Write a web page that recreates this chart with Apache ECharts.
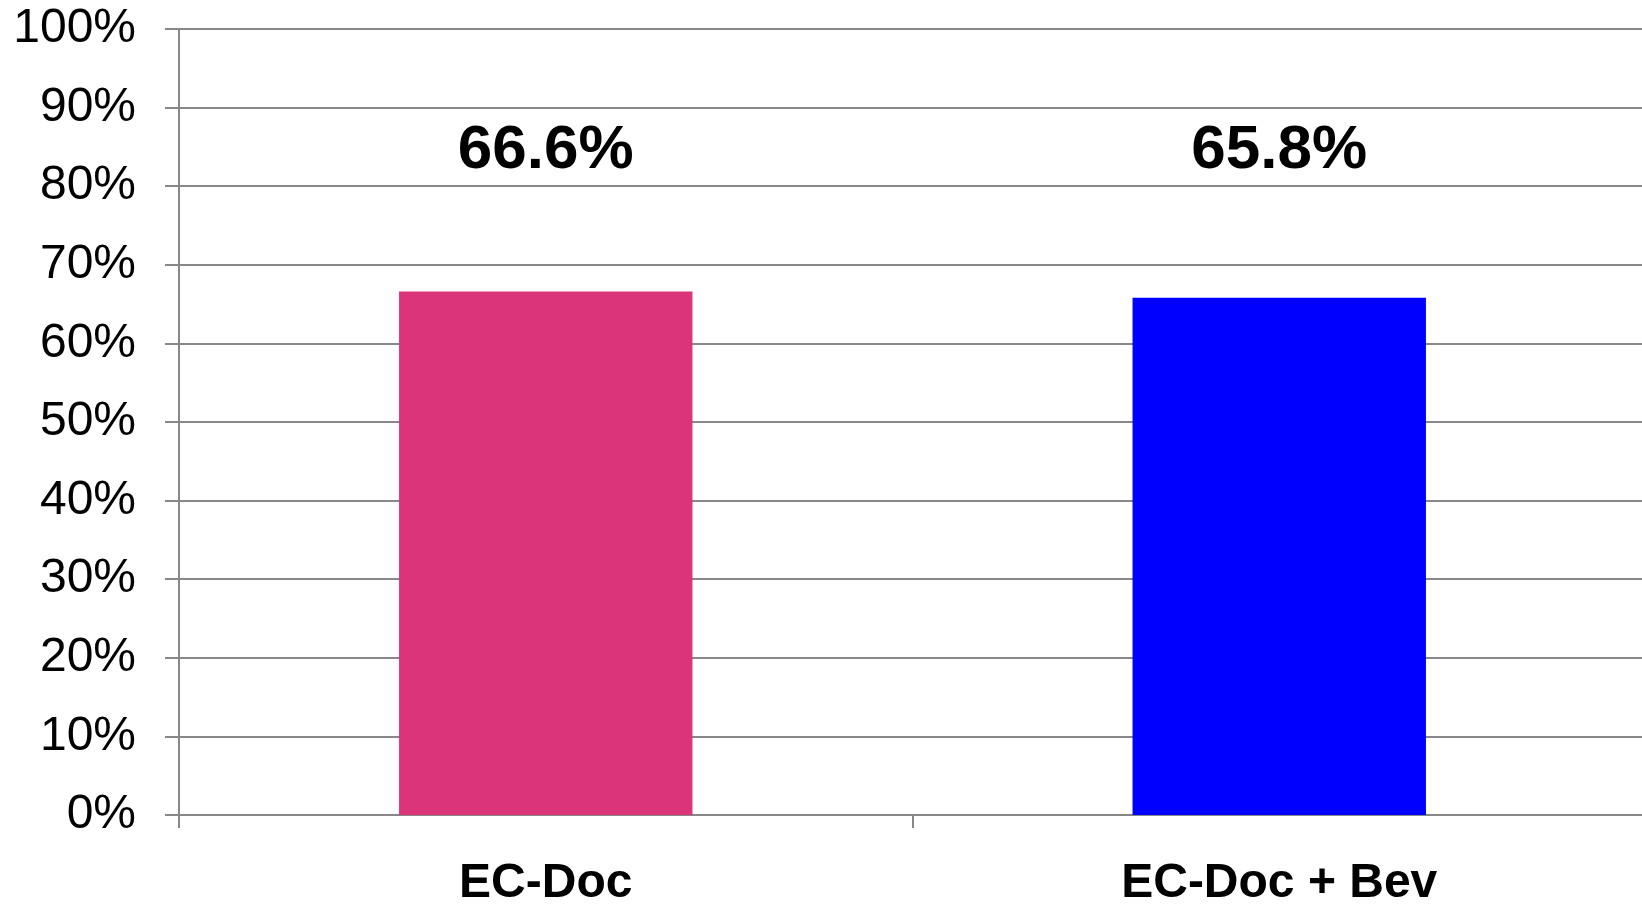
<!DOCTYPE html>
<html>
<head>
<meta charset="utf-8">
<title>EC-Doc</title>
<script src="https://cdn.jsdelivr.net/npm/echarts@6/dist/echarts.min.js"></script>
<style>
  html, body { margin: 0; padding: 0; background: #fff; }
  #main { width: 1642px; height: 905px; }
</style>
</head>
<body>
<div id="main"></div>
<script>
// data
var categories = ["EC-Doc", "EC-Doc + Bev"];
var values = [66.6, 65.8];
var barColors = ["#DB347B", "#0000FF"];
var yTicks = [0, 10, 20, 30, 40, 50, 60, 70, 80, 90, 100];

// the value labels sit on one common level above the bars, like in the slide
var labelLevel = 84.5;

var chart = echarts.init(document.getElementById("main"));

var gridColor = "#888888";
var font = "'Liberation Sans', Arial, sans-serif";

chart.setOption({
  animation: false,
  backgroundColor: "#fff",
  grid: {
    left: 179,
    right: -4,
    top: 29,
    bottom: 90,
    outerBoundsMode: "none"
  },
  xAxis: {
    type: "category",
    data: categories,
    axisLine: { show: true, lineStyle: { color: gridColor, width: 2 } },
    axisTick: { show: true, length: 13, lineStyle: { color: gridColor, width: 2 } },
    axisLabel: {
      color: "#000",
      fontFamily: font,
      fontWeight: "bold",
      fontSize: 48,
      margin: 45
    }
  },
  yAxis: {
    type: "value",
    min: yTicks[0],
    max: yTicks[yTicks.length - 1],
    interval: yTicks[1] - yTicks[0],
    axisLine: { show: true, lineStyle: { color: gridColor, width: 2 } },
    axisTick: { show: true, length: 14, lineStyle: { color: gridColor, width: 2 } },
    splitLine: { show: true, lineStyle: { color: gridColor, width: 2 } },
    axisLabel: {
      color: "#000",
      fontFamily: font,
      fontSize: 48,
      margin: 43,
      formatter: "{value}%"
    }
  },
  series: [
    {
      type: "bar",
      barWidth: "40%",
      silent: true,
      data: values.map(function (v, i) {
        return { value: v, itemStyle: { color: barColors[i] } };
      })
    },
    {
      // invisible points that only carry the big labels
      type: "scatter",
      symbolSize: 0,
      silent: true,
      itemStyle: { opacity: 1, color: "#000" },
      data: categories.map(function (c) { return [c, labelLevel]; }),
      label: {
        show: true,
        position: "inside",
        color: "#000",
        opacity: 1,
        textBorderWidth: 0,
        fontFamily: font,
        fontWeight: "bold",
        fontSize: 62,
        formatter: function (p) { return values[p.dataIndex].toFixed(1) + "%"; }
      }
    }
  ]
});
</script>
</body>
</html>
